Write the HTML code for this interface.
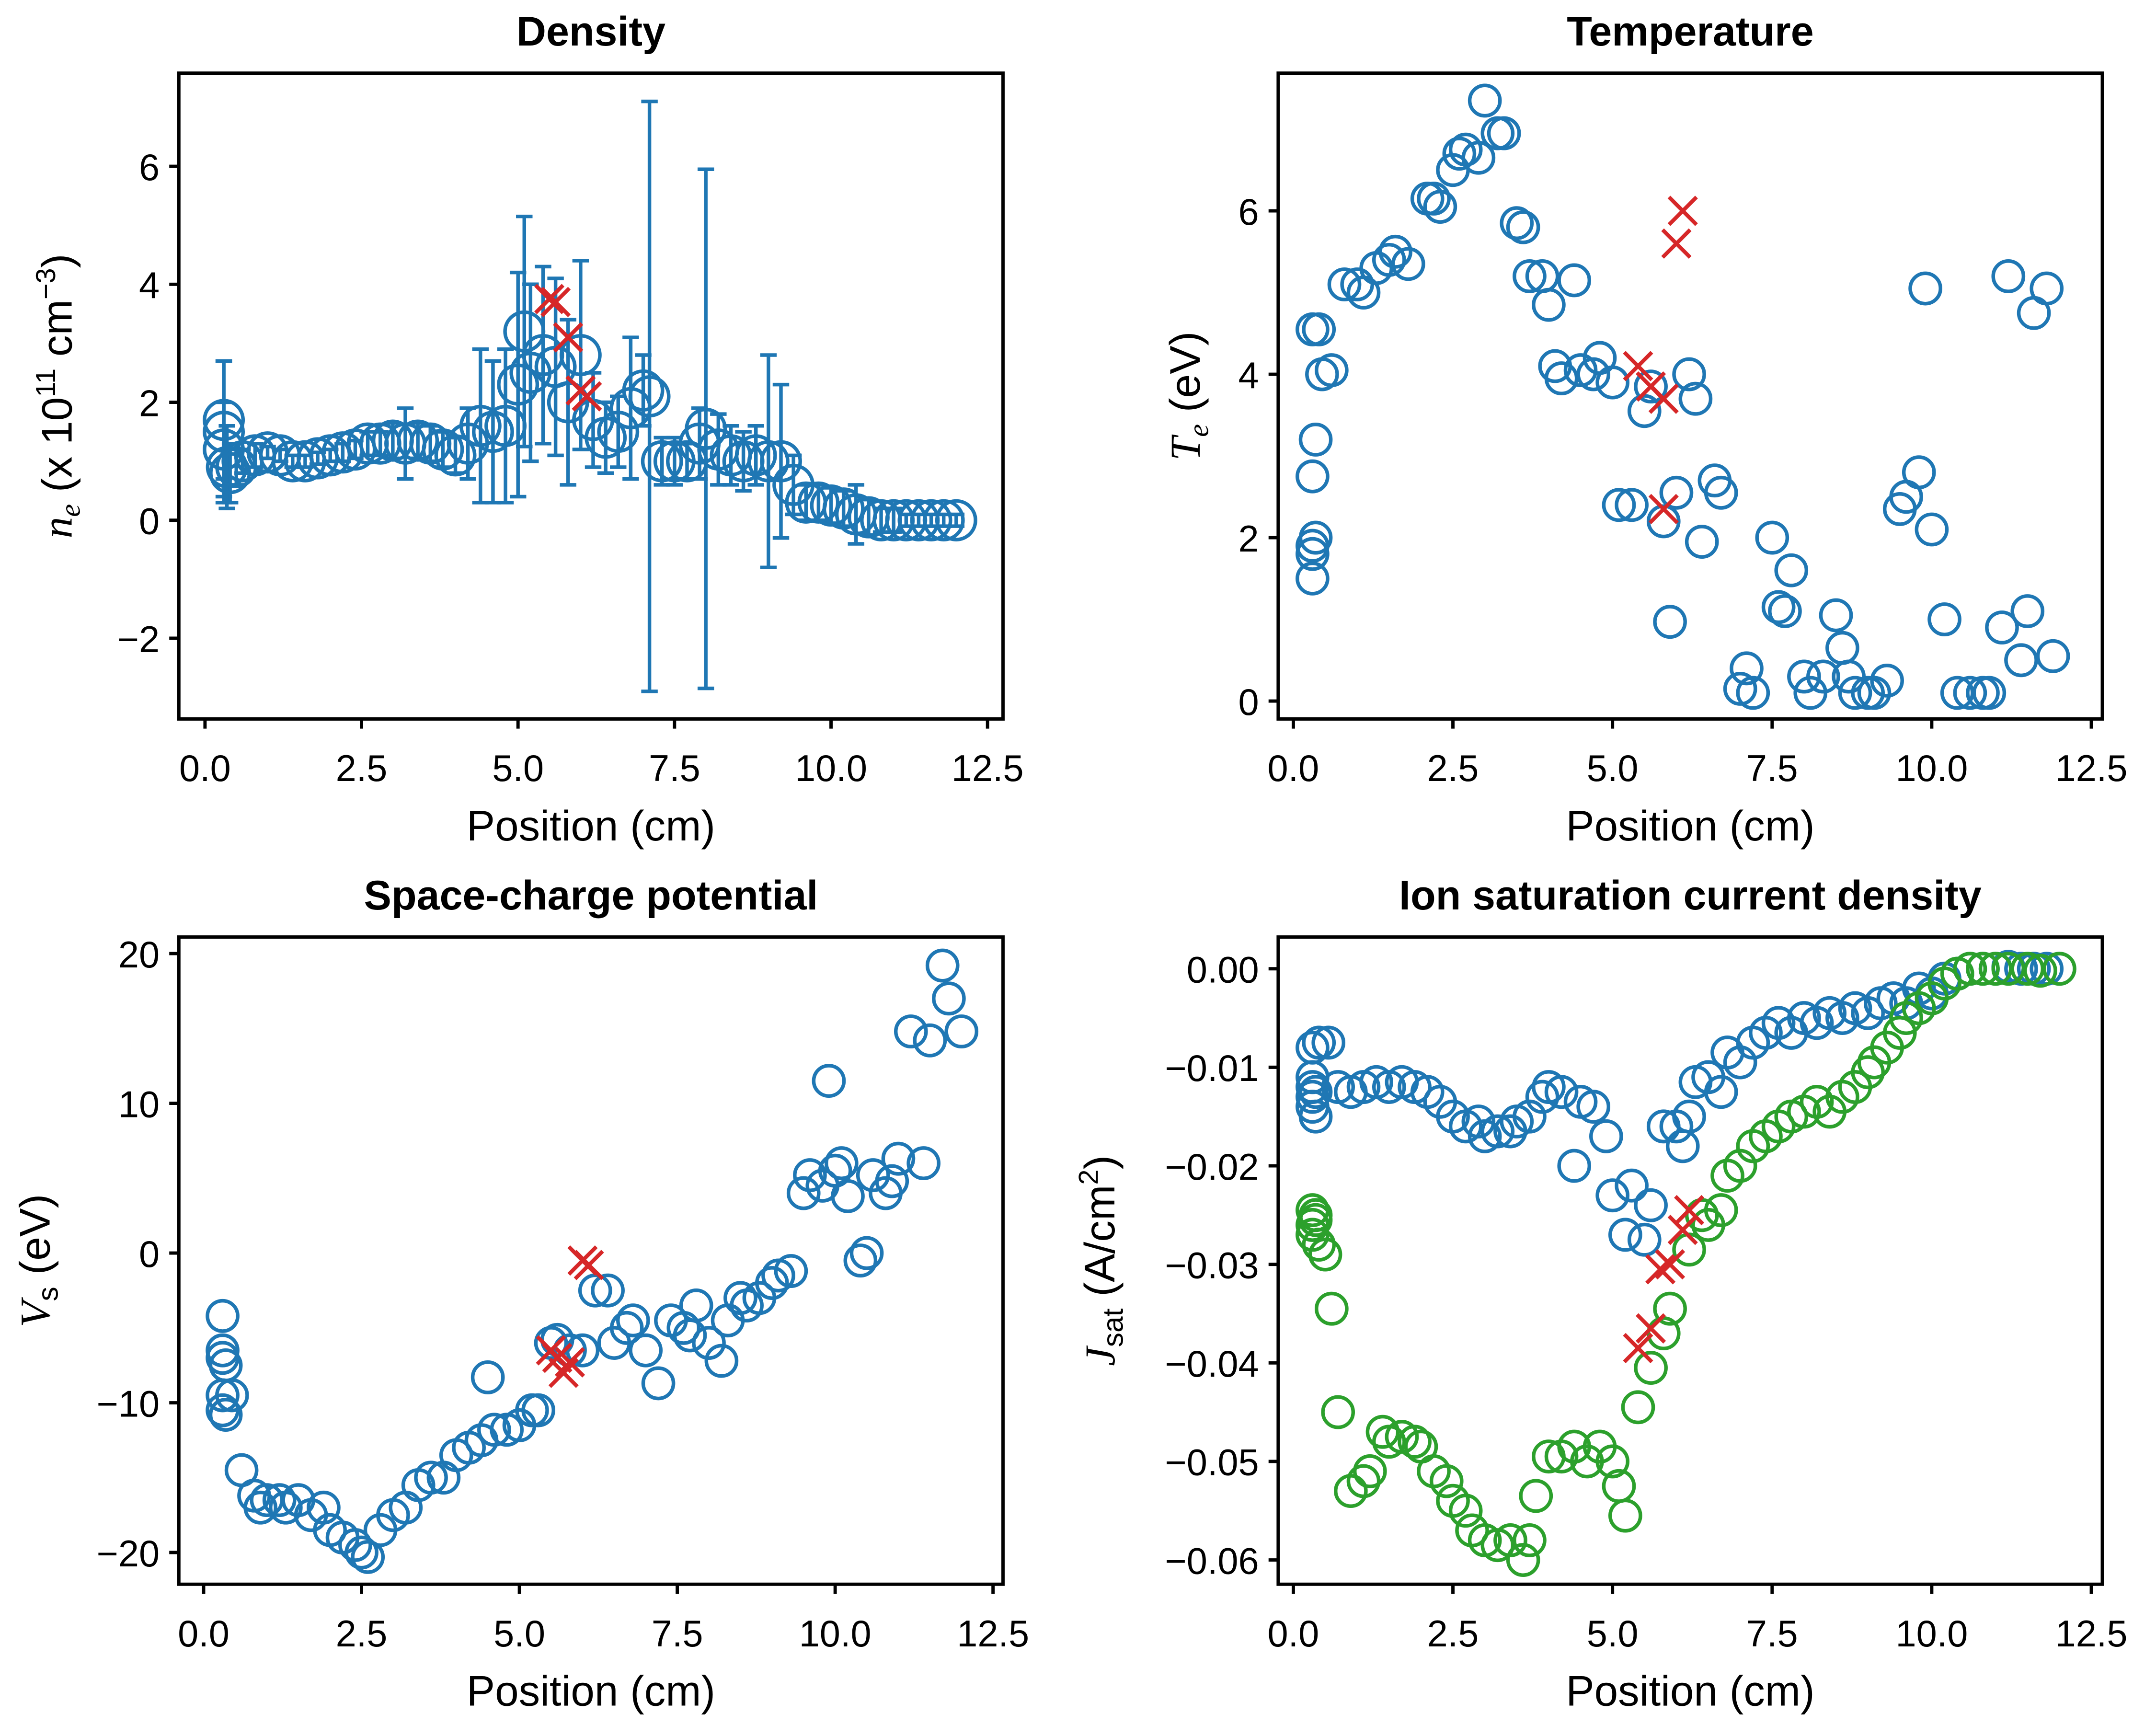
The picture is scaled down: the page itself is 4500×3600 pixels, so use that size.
<!DOCTYPE html>
<html><head><meta charset="utf-8"><style>
html,body{margin:0;padding:0;background:#fff;}
svg{display:block;}
text{font-family:"Liberation Sans",Arial,sans-serif;fill:#000;}
</style></head><body>
<svg id="fig" width="4500" height="3600" viewBox="0 0 1567 1250" preserveAspectRatio="none" xmlns="http://www.w3.org/2000/svg"></svg>
<script>
// ---- Density data ----
const denX=[0.3,0.3,0.3,0.35,0.4,0.5,0.6,0.8,1.0,1.2,1.4,1.6,1.8,2.0,2.2,2.4,2.6,2.8,3.0,3.2,3.4,3.6,3.8,4.0,4.2,4.4,4.6,4.8,5.0,5.1,5.2,5.4,5.6,5.8,6.0,6.2,6.4,6.6,6.8,7.0,7.1,7.3,7.5,7.7,7.9,8.0,8.2,8.4,8.6,8.8,9.0,9.2,9.4,9.6,9.8,10.0,10.2,10.4,10.6,10.8,11.0,11.2,11.4,11.6,11.8,12.0];
const denY=[1.5,1.7,1.2,0.9,0.8,0.9,1.0,1.1,1.15,1.1,1.0,1.0,1.05,1.1,1.15,1.2,1.3,1.3,1.35,1.3,1.35,1.3,1.2,1.1,1.3,1.6,1.5,1.6,2.3,3.2,2.5,2.8,2.6,2.0,2.8,1.7,1.4,1.5,1.9,2.2,2.1,1.0,1.0,1.0,1.3,1.55,1.2,1.1,1.0,1.1,1.0,1.0,0.6,0.3,0.3,0.25,0.2,0.1,0.05,0,0,0,0,0,0,0];
const denErr=[1.2,1.0,0.8,0.7,0.5,0.3,0.2,0.2,0.1,0.1,0.1,0.1,0.1,0.1,0.15,0.15,0.2,0.2,0.3,0.6,0.3,0.3,0.3,0.3,0.6,1.3,1.2,1.3,1.9,1.95,1.5,1.5,1.5,1.4,1.6,0.8,0.6,0.6,1.2,0.6,5.0,0.4,0.4,0.3,0.6,4.4,0.6,0.5,0.5,0.5,1.8,1.3,0.5,0.3,0.3,0.3,0.3,0.5,0.3,0.2,0.2,0.1,0.1,0.1,0.1,0.1];
const denRedX=[5.5,5.6,5.8,6.0,6.1];
const denRedY=[3.75,3.7,3.1,2.2,2.1];
const denYTicks=[-2,0,2,4,6];
// ---- Temperature data ----
const teX=[0.3,0.3,0.3,0.35,0.3,0.35,0.3,0.4,0.45,0.6,0.8,1.0,1.1,1.3,1.5,1.6,1.8,2.1,2.2,2.3,2.5,2.6,2.7,2.9,3.0,3.2,3.3,3.5,3.6,3.7,3.9,4.0,4.1,4.2,4.4,4.5,4.7,4.8,5.0,5.1,5.3,5.5,5.6,5.8,5.9,6.0,6.2,6.3,6.4,6.6,6.7,7.0,7.1,7.2,7.5,7.6,7.7,7.8,8.0,8.1,8.3,8.5,8.6,8.7,8.8,9.0,9.1,9.3,9.5,9.6,9.8,9.9,10.0,10.2,10.4,10.6,10.8,10.9,11.1,11.2,11.4,11.5,11.6,11.8,11.9];
const teY=[1.5,1.8,1.9,2.0,2.75,3.2,4.55,4.55,4.0,4.05,5.1,5.1,5.0,5.3,5.4,5.5,5.35,6.15,6.15,6.05,6.5,6.7,6.75,6.65,7.35,6.95,6.95,5.85,5.8,5.2,5.2,4.85,4.1,3.95,5.15,4.05,4.0,4.2,3.9,2.4,2.4,3.55,3.85,2.2,0.97,2.55,4.0,3.7,1.95,2.7,2.55,0.15,0.4,0.1,2.0,1.15,1.1,1.6,0.3,0.1,0.3,1.05,0.65,0.3,0.1,0.1,0.1,0.25,2.35,2.5,2.8,5.05,2.1,1.0,0.1,0.1,0.1,0.1,0.9,5.2,0.5,1.1,4.75,5.05,0.55];
const teRedX=[5.4,5.6,5.8,5.8,6.0,6.1];
const teRedY=[4.1,3.85,3.7,2.35,5.6,6.0];
const teYTicks=[0,2,4,6];
// ---- Potential data ----
const vsX=[0.3,0.3,0.3,0.35,0.3,0.3,0.35,0.45,0.6,0.8,0.9,1.0,1.2,1.3,1.5,1.7,1.9,2.0,2.2,2.4,2.5,2.6,2.8,3.0,3.2,3.4,3.6,3.8,4.0,4.2,4.4,4.5,4.6,4.8,5.0,5.2,5.3,5.5,5.6,5.8,6.0,6.2,6.4,6.5,6.7,6.8,7.0,7.2,7.4,7.6,7.7,7.8,8.0,8.2,8.3,8.5,8.6,8.8,9.0,9.1,9.3,9.5,9.6,9.8,9.9,10.0,10.1,10.2,10.4,10.5,10.6,10.8,10.9,11.0,11.2,11.4,11.5,11.7,11.8,12.0];
const vsY=[-4.2,-6.5,-7,-7.5,-9.5,-10.5,-10.8,-9.5,-14.5,-16.2,-17,-16.5,-16.5,-17,-16.5,-17.5,-17,-18.5,-19,-19.5,-20,-20.3,-18.5,-17.5,-17,-15.5,-15,-15,-13.5,-13,-12.5,-8.3,-11.8,-11.8,-11.5,-10.5,-10.5,-6,-5.8,-6.5,-6.5,-2.5,-2.5,-6,-5,-4.5,-6.5,-8.7,-4.5,-5,-5.5,-3.5,-6,-7.2,-4.5,-3,-3.5,-3,-2,-1.5,-1.2,4,5.2,4.5,11.5,5.5,6,3.8,-0.5,0,5.2,4,4.8,6.3,14.8,6,14.2,19.2,17,14.8];
const vsRedX=[5.5,5.6,5.7,5.8,6.0,6.1];
const vsRedY=[-6.5,-7,-8,-7.3,-0.5,-0.8];
const vsYTicks=[-20,-10,0,10,20];
// ---- Jsat data ----
const jbX=[0.3,0.3,0.3,0.3,0.3,0.35,0.35,0.4,0.55,0.7,0.9,1.1,1.3,1.5,1.7,1.9,2.1,2.3,2.5,2.7,2.9,3.0,3.2,3.4,3.5,3.7,3.9,4.0,4.2,4.4,4.5,4.7,4.9,5.0,5.2,5.3,5.5,5.6,5.8,6.0,6.1,6.2,6.3,6.5,6.7,6.8,7.0,7.2,7.4,7.6,7.8,8.0,8.2,8.4,8.6,8.8,9.0,9.2,9.4,9.6,9.8,10.0,10.2,10.4,10.6,10.8,11.0,11.2,11.4,11.6,11.8,12.0];
const jbY=[-0.008,-0.011,-0.012,-0.013,-0.014,-0.015,-0.0125,-0.0075,-0.0075,-0.012,-0.0125,-0.012,-0.0115,-0.012,-0.0115,-0.012,-0.0125,-0.0135,-0.015,-0.016,-0.0155,-0.017,-0.0165,-0.0165,-0.0155,-0.015,-0.013,-0.012,-0.0125,-0.02,-0.0135,-0.014,-0.017,-0.023,-0.027,-0.022,-0.0275,-0.024,-0.016,-0.016,-0.018,-0.015,-0.0115,-0.011,-0.0125,-0.0085,-0.0095,-0.0075,-0.0065,-0.0055,-0.0065,-0.005,-0.0055,-0.0045,-0.005,-0.004,-0.0045,-0.0035,-0.003,-0.0035,-0.002,-0.0025,-0.001,-0.0005,0,0,0,0.0002,0,0,0,0];
const jgX=[0.3,0.3,0.3,0.35,0.35,0.4,0.5,0.6,0.7,0.9,1.1,1.2,1.4,1.5,1.7,1.9,2.0,2.2,2.4,2.5,2.7,2.8,3.0,3.2,3.4,3.6,3.7,3.8,4.0,4.2,4.4,4.6,4.8,5.0,5.1,5.2,5.4,5.6,5.8,5.9,6.2,6.4,6.5,6.7,6.8,7.0,7.2,7.4,7.6,7.8,8.0,8.2,8.4,8.6,8.8,9.0,9.1,9.3,9.5,9.6,9.8,10.0,10.2,10.4,10.6,10.8,11.0,11.2,11.5,11.7,12.0];
const jgY=[-0.026,-0.027,-0.0245,-0.025,-0.0255,-0.028,-0.029,-0.0345,-0.045,-0.053,-0.052,-0.051,-0.047,-0.048,-0.0475,-0.048,-0.0485,-0.051,-0.052,-0.054,-0.055,-0.057,-0.058,-0.0585,-0.058,-0.06,-0.058,-0.0535,-0.0495,-0.0495,-0.0485,-0.05,-0.0485,-0.05,-0.0525,-0.0555,-0.0445,-0.0405,-0.037,-0.0345,-0.0285,-0.025,-0.026,-0.0245,-0.021,-0.02,-0.018,-0.017,-0.016,-0.015,-0.0145,-0.0135,-0.0145,-0.013,-0.012,-0.0105,-0.0095,-0.008,-0.0065,-0.005,-0.004,-0.003,-0.0015,-0.0005,0,0,0,0,0,-0.0002,0];
const jRedX=[5.4,5.6,5.75,5.9,6.1,6.2];
const jRedY=[-0.0385,-0.0365,-0.0305,-0.03,-0.0265,-0.0245];
const jYTicks=[-0.06,-0.05,-0.04,-0.03,-0.02,-0.01,0.00];
const xTicks=[0,2.5,5,7.5,10,12.5];

const NS="http://www.w3.org/2000/svg";
const svg=document.getElementById('fig');
function mk(tag,attrs,parent){const e=document.createElementNS(NS,tag);for(const k in attrs)e.setAttribute(k,attrs[k]);(parent||svg).appendChild(e);return e;}
const BLUE="#1f77b4",GREEN="#2ca02c",RED="#d62728";

function panel(cfg){
  const g=mk('g',{});
  
  
  const L=cfg.box[0],T=cfg.box[1],R=cfg.box[2],B=cfg.box[3];
  const sx=v=>cfg.x0px+(v)*cfg.xpu;
  const sy=v=>cfg.y0px-(v)*cfg.ypu;
  const clip='c'+cfg.name;
  const cp=mk('clipPath',{id:clip},g);mk('rect',{x:L,y:T,width:R-L,height:B-T},cp);
  const dg=mk('g',{'clip-path':'url(#'+clip+')'},g);
  
  
  (cfg.series||[]).forEach(s=>{
    const sg=mk('g',{},dg);
    
    
    for(let i=0;i<s.x.length;i++){
      if(s.err){
        const x=sx(s.x[i]),y1=sy(s.y[i]-s.err[i]),y2=sy(s.y[i]+s.err[i]);
        const eb=mk('path',{d:`M${x},${y1}V${y2}M${x-6},${y1}H${x+6}M${x-6},${y2}H${x+6}`,stroke:s.color,'stroke-width':2.6,fill:'none'},sg);
        
        
      }
      const c=mk('circle',{cx:sx(s.x[i]),cy:sy(s.y[i]),r:s.r,fill:'none',stroke:s.color,'stroke-width':2.6},sg);
      
      
    }
  });
  const rg=mk('g',{},dg);
  
  
  for(let i=0;i<cfg.rx.length;i++){
    const x=sx(cfg.rx[i]),y=sy(cfg.ry[i]),d=10;
    const m=mk('path',{d:`M${x-d},${y-d}L${x+d},${y+d}M${x-d},${y+d}L${x+d},${y-d}`,stroke:RED,'stroke-width':2.8,fill:'none'},rg);
    
    
  }
  const fr=mk('rect',{x:L,y:T,width:R-L,height:B-T,fill:'none',stroke:'#000','stroke-width':2.4},g);
  
  
  xTicks.forEach(v=>{
    const x=sx(v);
    mk('line',{x1:x,x2:x,y1:B,y2:B+7,stroke:'#000','stroke-width':2.4},g);
    const t=mk('text',{x:x,y:B+45,'font-size':27,'text-anchor':'middle'},g);
    t.textContent=v.toFixed(1);
    
    
  });
  cfg.yt.forEach(v=>{
    const y=sy(v);
    mk('line',{x1:L-7,x2:L,y1:y,y2:y,stroke:'#000','stroke-width':2.4},g);
    const t=mk('text',{x:L-14,y:y+10,'font-size':27,'text-anchor':'end'},g);
    let s=cfg.yfmt?cfg.yfmt(v):String(v);
    t.textContent=s.replace('-','\u2212');
    
    
  });
  const tt=mk('text',{x:(L+R)/2,y:T-20,'font-size':30,'font-weight':'bold','text-anchor':'middle'},g);
  tt.textContent=cfg.title;
  
  
  const xl=mk('text',{x:(L+R)/2,y:B+88,'font-size':31,'text-anchor':'middle'},g);
  xl.textContent='Position (cm)';
  
  
  const yl=mk('text',{transform:`translate(${cfg.ylx},${(T+B)/2}) rotate(-90)`,'font-size':31,'text-anchor':'middle'},g);
  yl.innerHTML=cfg.ylab;
  
  
}

panel({name:'density-panel',box:[130,53,729,521],x0px:149,xpu:45.5,y0px:377,ypu:42.75,
  series:[{name:'density-series',x:denX,y:denY,err:denErr,color:BLUE,r:14}],
  rx:denRedX,ry:denRedY,yt:denYTicks,title:'Density',ylx:52,
  ylab:'<tspan font-family="Liberation Serif" font-style="italic">n</tspan><tspan font-family="Liberation Serif" font-style="italic" font-size="21" dy="6">e</tspan><tspan dy="-6"> (x 10</tspan><tspan font-size="20" dy="-12">11</tspan><tspan dy="12"> cm</tspan><tspan font-size="20" dy="-12">\u22123</tspan><tspan dy="12">)</tspan>'});
panel({name:'temperature-panel',box:[929,53,1528,521],x0px:940,xpu:46.4,y0px:508,ypu:59.2,
  series:[{name:'temperature-series',x:teX,y:teY,color:BLUE,r:11}],
  rx:teRedX,ry:teRedY,yt:teYTicks,title:'Temperature',ylx:872,
  ylab:'<tspan font-family="Liberation Serif" font-style="italic">T</tspan><tspan font-family="Liberation Serif" font-style="italic" font-size="21" dy="6">e</tspan><tspan dy="-6"> (eV)</tspan>'});
panel({name:'potential-panel',box:[130,679,729,1148],x0px:148,xpu:45.9,y0px:908,ypu:10.85,
  series:[{name:'potential-series',x:vsX,y:vsY,color:BLUE,r:11}],
  rx:vsRedX,ry:vsRedY,yt:vsYTicks,title:'Space-charge potential',ylx:36,
  ylab:'<tspan font-family="Liberation Serif" font-style="italic">V</tspan><tspan font-size="21" dy="6">s</tspan><tspan dy="-6"> (eV)</tspan>'});
panel({name:'jsat-panel',box:[929,679,1528,1148],x0px:940,xpu:46.4,y0px:702,ypu:7140,
  series:[{name:'jsat-blue-series',x:jbX,y:jbY,color:BLUE,r:11},{name:'jsat-green-series',x:jgX,y:jgY,color:GREEN,r:11}],
  rx:jRedX,ry:jRedY,yt:jYTicks,title:'Ion saturation current density',ylx:810,yfmt:v=>v.toFixed(2),
  ylab:'<tspan font-family="Liberation Serif" font-style="italic">J</tspan><tspan font-size="21" dy="6">sat</tspan><tspan dy="-6"> (A/cm</tspan><tspan font-size="20" dy="-12">2</tspan><tspan dy="12">)</tspan>'});
</script>
</body></html>
